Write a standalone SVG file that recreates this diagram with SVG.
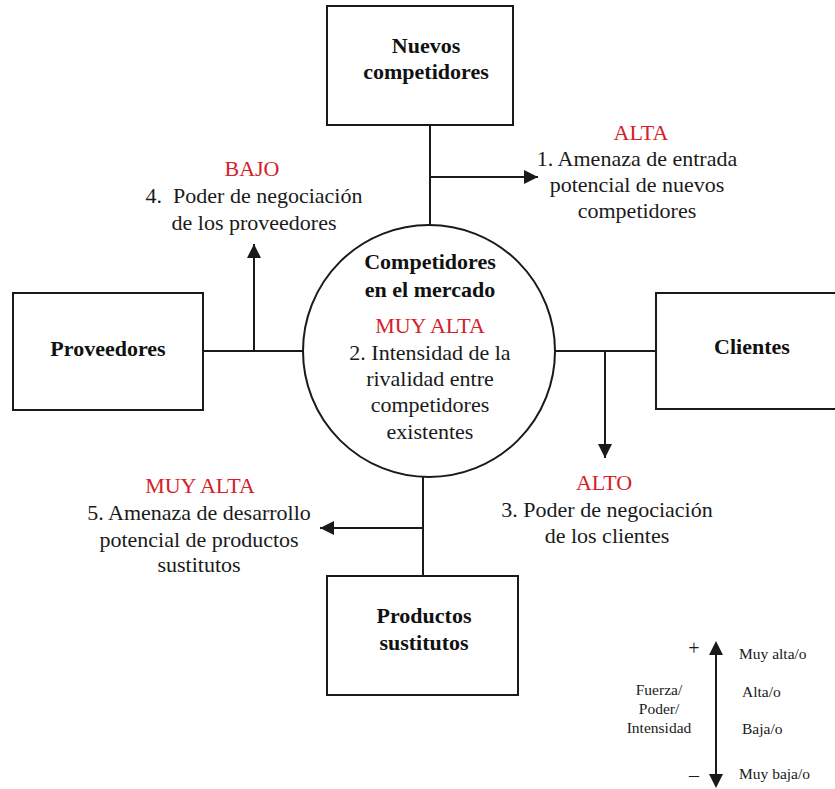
<svg xmlns="http://www.w3.org/2000/svg" width="835" height="789" viewBox="0 0 835 789" font-family="Liberation Serif, serif">
  <style>
    .box { fill: #ffffff; stroke: #1a1a1a; stroke-width: 2; }
    .line { fill: none; stroke: #1a1a1a; stroke-width: 2; }
    .t-name { font-family: 'Liberation Serif', serif; font-weight: bold; font-size: 22px; fill: #111111; text-anchor: middle; }
    .t-desc { font-family: 'Liberation Serif', serif; font-size: 22px; fill: #1a1a1a; text-anchor: middle; }
    .t-rank { font-family: 'Liberation Serif', serif; font-size: 22px; fill: #d6202a; text-anchor: middle; }
    .t-key { font-family: 'Liberation Serif', serif; font-size: 15.5px; fill: #1a1a1a; }
    .t-sign { font-family: 'Liberation Serif', serif; font-size: 20px; fill: #1a1a1a; text-anchor: middle; }
  </style>
  <defs>
    <marker id="arrow" viewBox="0 0 10 10" refX="10" refY="5" markerWidth="7" markerHeight="7" markerUnits="strokeWidth" orient="auto">
      <path d="M0,0 L10,5 L0,10 z" fill="#1a1a1a"/>
    </marker>
  </defs>

  <rect width="835" height="789" fill="#ffffff"/>

  <!-- connectors -->
  <g id="connectors">
    <!-- top: new entrants -->
    <line class="line" x1="430" y1="125" x2="430" y2="225"/>
    <line class="line" x1="430" y1="177" x2="538" y2="177" marker-end="url(#arrow)"/>
    <!-- left: suppliers -->
    <line class="line" x1="203" y1="351" x2="304" y2="351"/>
    <line class="line" x1="254" y1="351" x2="254" y2="244" marker-end="url(#arrow)"/>
    <!-- right: clients -->
    <line class="line" x1="555" y1="351" x2="656" y2="351"/>
    <line class="line" x1="605" y1="351" x2="605" y2="458" marker-end="url(#arrow)"/>
    <!-- bottom: substitutes -->
    <line class="line" x1="423" y1="477" x2="423" y2="576"/>
    <line class="line" x1="423" y1="528" x2="320" y2="528" marker-end="url(#arrow)"/>
  </g>

  <!-- nodes -->
  <g id="nuevos-competidores">
    <rect class="box" x="327" y="6" width="186" height="119"/>
    <text class="t-name" x="426" y="53">Nuevos</text>
    <text class="t-name" x="426" y="79">competidores</text>
  </g>

  <g id="proveedores">
    <rect class="box" x="13" y="293" width="190" height="117"/>
    <text class="t-name" x="108" y="356">Proveedores</text>
  </g>

  <g id="clientes">
    <rect class="box" x="656" y="293" width="190" height="116"/>
    <text class="t-name" x="752" y="354">Clientes</text>
  </g>

  <g id="productos-sustitutos">
    <rect class="box" x="327" y="576" width="191" height="119"/>
    <text class="t-name" x="424" y="623">Productos</text>
    <text class="t-name" x="424" y="650">sustitutos</text>
  </g>

  <g id="competidores-mercado">
    <circle class="box" cx="429" cy="351" r="126"/>
    <text class="t-name" x="430" y="269">Competidores</text>
    <text class="t-name" x="430" y="297">en el mercado</text>
    <text class="t-rank" x="430" y="333">MUY ALTA</text>
    <text class="t-desc" x="430" y="360">2. Intensidad de la</text>
    <text class="t-desc" x="430" y="386">rivalidad entre</text>
    <text class="t-desc" x="430" y="412">competidores</text>
    <text class="t-desc" x="430" y="439">existentes</text>
  </g>

  <!-- force labels -->
  <g id="fuerza-1">
    <text class="t-rank" x="641" y="140">ALTA</text>
    <text class="t-desc" x="637" y="166">1. Amenaza de entrada</text>
    <text class="t-desc" x="637" y="192">potencial de nuevos</text>
    <text class="t-desc" x="637" y="218">competidores</text>
  </g>

  <g id="fuerza-4">
    <text class="t-rank" x="252" y="176">BAJO</text>
    <text class="t-desc" x="254" y="203" xml:space="preserve">4.  Poder de negociación</text>
    <text class="t-desc" x="254" y="230">de los proveedores</text>
  </g>

  <g id="fuerza-3">
    <text class="t-rank" x="604" y="490">ALTO</text>
    <text class="t-desc" x="607" y="517">3. Poder de negociación</text>
    <text class="t-desc" x="607" y="543">de los clientes</text>
  </g>

  <g id="fuerza-5">
    <text class="t-rank" x="200" y="493">MUY ALTA</text>
    <text class="t-desc" x="199" y="520">5. Amenaza de desarrollo</text>
    <text class="t-desc" x="199" y="547">potencial de productos</text>
    <text class="t-desc" x="199" y="572">sustitutos</text>
  </g>

  <!-- scale legend -->
  <g id="leyenda">
    <line class="line" x1="716" y1="655" x2="716" y2="775"/>
    <path d="M709,655 L716,641 L723,655 z" fill="#1a1a1a"/>
    <path d="M709,774 L716,788 L723,774 z" fill="#1a1a1a"/>
    <text class="t-sign" x="694" y="655">+</text>
    <text class="t-sign" x="694" y="782">–</text>
    <text class="t-key" x="659" y="695" text-anchor="middle">Fuerza/</text>
    <text class="t-key" x="659" y="714" text-anchor="middle">Poder/</text>
    <text class="t-key" x="659" y="733" text-anchor="middle">Intensidad</text>
    <text class="t-key" x="739" y="659">Muy alta/o</text>
    <text class="t-key" x="742" y="697">Alta/o</text>
    <text class="t-key" x="742" y="734">Baja/o</text>
    <text class="t-key" x="739" y="779">Muy baja/o</text>
  </g>
</svg>
